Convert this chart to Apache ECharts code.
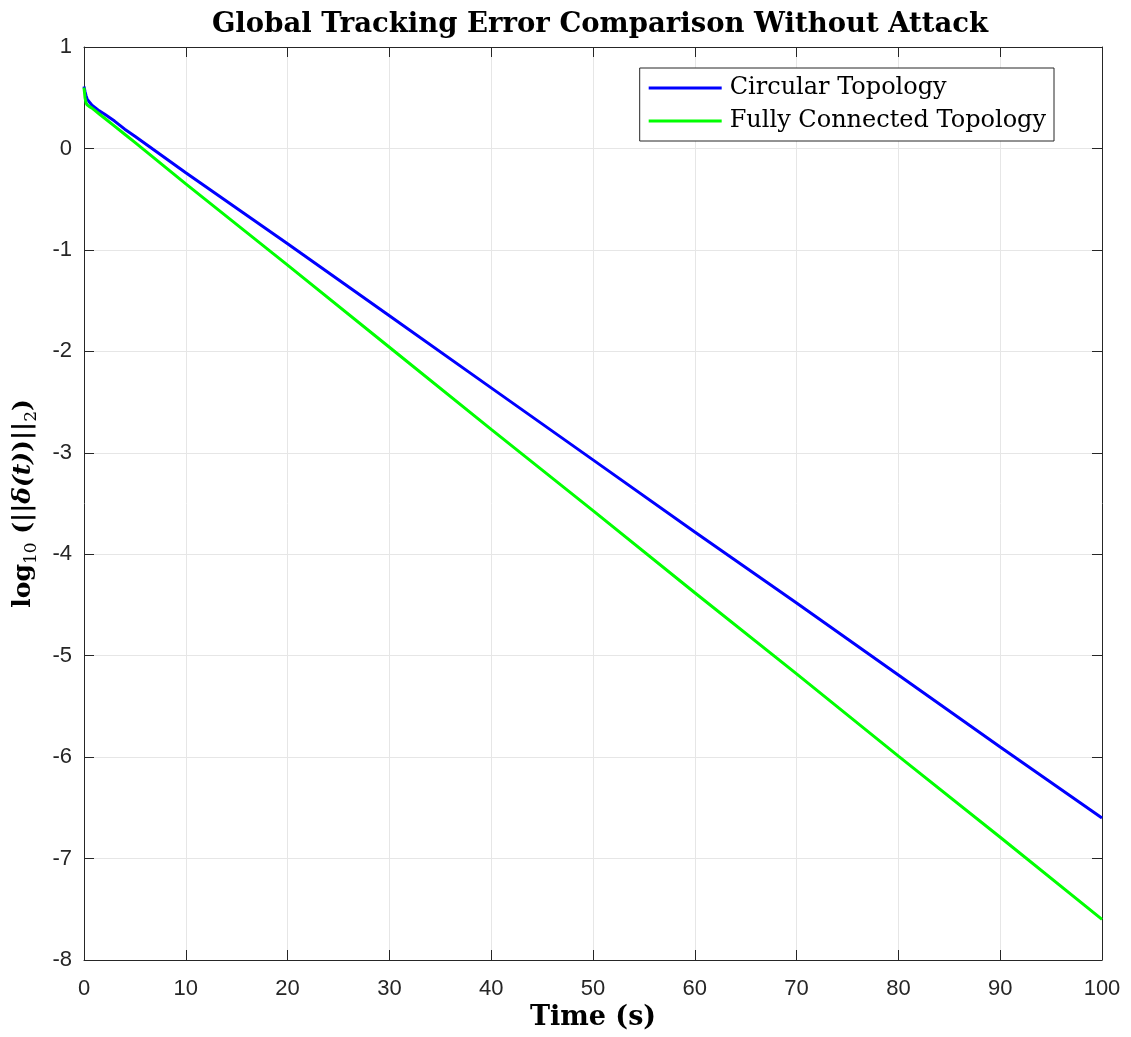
<!DOCTYPE html>
<html>
<head>
<meta charset="utf-8">
<script src="https://cdn.jsdelivr.net/npm/echarts@6/dist/echarts.min.js"></script>
<style>
  html, body { margin: 0; padding: 0; background: #fff; }
  #main { width: 1131px; height: 1037px; }
</style>
</head>
<body>
<div id="main"></div>
<script>
var dom = document.getElementById("main");
var chart = echarts.init(dom);

// time samples (s)
var timeS = [0, 0.1, 0.2, 0.3, 0.5, 0.75, 1, 1.5, 2, 3, 4, 5, 10, 20, 30, 40, 50, 60, 70, 80, 90, 100];
// log10 of tracking error norm
var circular = [0.61, 0.56, 0.52, 0.49, 0.46, 0.43, 0.41, 0.37, 0.34, 0.27, 0.19, 0.12, -0.24, -0.94, -1.65, -2.36, -3.07, -3.78, -4.48, -5.19, -5.90, -6.60];
var fully = [0.60, 0.50, 0.45, 0.43, 0.415, 0.40, 0.38, 0.34, 0.30, 0.22, 0.14, 0.06, -0.35, -1.15, -1.96, -2.77, -3.57, -4.38, -5.18, -5.99, -6.79, -7.60];
var seriesNames = ["Circular Topology", "Fully Connected Topology"];

function pairs(ys) {
  return timeS.map(function (t, i) { return [t, ys[i]]; });
}

var serif = "'DejaVu Serif', 'Liberation Serif', serif";
var sans = "'Liberation Sans', Arial, sans-serif";

var axisLine = { show: true, onZero: false, lineStyle: { color: "#262626", width: 1 } };
var tick = { show: true, inside: true, length: 10, lineStyle: { color: "#262626" } };
var grid = { show: true, lineStyle: { color: "#e6e6e6", width: 1 } };

chart.setOption({
  animation: false,
  title: {
    text: "Global Tracking Error Comparison Without Attack",
    left: 595,
    textAlign: "center",
    top: 6,
    textStyle: { fontFamily: serif, fontWeight: "bold", fontSize: 27.5, color: "#000" }
  },
  grid: { left: 84, right: 29, top: 47, bottom: 77, containLabel: false, outerBoundsMode: "none" },
  legend: {
    orient: "vertical",
    right: 77,
    top: 68,
    itemWidth: 73,
    itemHeight: 3,
    itemGap: 9,
    padding: [8, 8, 8, 9],
    borderColor: "#262626",
    borderWidth: 1,
    backgroundColor: "#fff",
    icon: "rect",
    textStyle: { fontFamily: serif, fontSize: 24, color: "#000", padding: [0, 0, 0, 3] },
    data: seriesNames
  },
  xAxis: [
    {
      type: "value",
      min: 0,
      max: 100,
      interval: 10,
      name: "Time (s)",
      nameLocation: "middle",
      nameGap: 43,
      nameTextStyle: { fontFamily: serif, fontWeight: "bold", fontSize: 27, color: "#000" },
      axisLine: axisLine,
      axisTick: tick,
      splitLine: grid,
      axisLabel: { fontFamily: sans, fontSize: 22, color: "#262626", margin: 18 }
    },
    {
      type: "value",
      position: "top",
      min: 0,
      max: 100,
      interval: 10,
      axisLine: axisLine,
      axisTick: tick,
      splitLine: { show: false },
      axisLabel: { show: false }
    }
  ],
  yAxis: [
    {
      type: "value",
      min: -8,
      max: 1,
      interval: 1,
      name: "{m|log}{s|10}{m| (||}{i|δ(t)}{m|)||}{s|2}{m|)}",
      nameLocation: "middle",
      nameRotate: 90,
      nameGap: 44,
      nameTextStyle: {
        color: "#000",
        rich: {
          m: { fontFamily: serif, fontWeight: "bold", fontSize: 25, lineHeight: 34, verticalAlign: "middle" },
          i: { fontFamily: serif, fontWeight: "bold", fontStyle: "italic", fontSize: 25, lineHeight: 34, verticalAlign: "middle" },
          s: { fontFamily: serif, fontSize: 17, lineHeight: 34, verticalAlign: "bottom", padding: [12, 0, 0, 0] }
        }
      },
      axisLine: axisLine,
      axisTick: tick,
      splitLine: grid,
      axisLabel: { fontFamily: sans, fontSize: 22, color: "#262626", margin: 12 }
    },
    {
      type: "value",
      position: "right",
      min: -8,
      max: 1,
      interval: 1,
      axisLine: axisLine,
      axisTick: tick,
      splitLine: { show: false },
      axisLabel: { show: false }
    }
  ],
  series: [
    {
      name: seriesNames[0],
      type: "line",
      showSymbol: false,
      data: pairs(circular),
      lineStyle: { color: "#0000ff", width: 3 },
      itemStyle: { color: "#0000ff" },
      z: 3
    },
    {
      name: seriesNames[1],
      type: "line",
      showSymbol: false,
      data: pairs(fully),
      lineStyle: { color: "#00ff00", width: 3 },
      itemStyle: { color: "#00ff00" },
      z: 4
    }
  ]
});
</script>
</body>
</html>
